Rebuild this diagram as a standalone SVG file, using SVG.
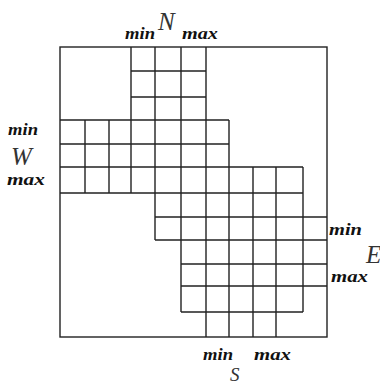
<svg xmlns="http://www.w3.org/2000/svg" width="380" height="387" viewBox="0 0 380 387">
<style>
.c{fill:none;stroke:#222;stroke-width:1.4}
.lim{font-family:"Liberation Serif","DejaVu Serif",serif;font-style:italic;font-weight:bold;font-size:17px;fill:#111}
.dir{font-family:"Liberation Serif","DejaVu Serif",serif;font-style:italic;font-size:25px;fill:#333}
</style>
<rect width="380" height="387" fill="#fff"/>
<g id="frame"><rect class="c" x="60" y="47" width="267" height="290"/></g>
<g id="grid">
<path class="c" d="
M131,47V120 M155,47V120 M181,47V120 M206,47V120
M131,71H206 M131,97H206
M60,120H229 M60,144H229 M229,120V167
M85,120V193 M109,120V193 M131,120V193 M155,120V217 M181,120V217 M206,120V337
M60,167H303 M60,193H303 M229,167V337 M253,167V337 M276,167V337 M303,167V312
M155,217H327 M155,240H327 M155,193V240 M181,217V312
M181,264H327 M181,286H327 M181,312H303"/>
</g>
<g id="labels">
<text class="lim" x="125" y="39" textLength="30" lengthAdjust="spacingAndGlyphs">min</text>
<text class="lim" x="182" y="39" textLength="36" lengthAdjust="spacingAndGlyphs">max</text>
<text class="dir" x="158" y="30">N</text>
<text class="lim" x="8" y="135" textLength="30" lengthAdjust="spacingAndGlyphs">min</text>
<text class="dir" x="11" y="165">W</text>
<text class="lim" x="7" y="185" textLength="38" lengthAdjust="spacingAndGlyphs">max</text>
<text class="lim" x="329" y="235" textLength="33" lengthAdjust="spacingAndGlyphs">min</text>
<text class="dir" x="366" y="263">E</text>
<text class="lim" x="331" y="282" textLength="37" lengthAdjust="spacingAndGlyphs">max</text>
<text class="lim" x="203" y="360" textLength="30" lengthAdjust="spacingAndGlyphs">min</text>
<text class="lim" x="254" y="360" textLength="37" lengthAdjust="spacingAndGlyphs">max</text>
<text class="dir" x="230" y="381" style="font-size:19px">S</text>
</g>
</svg>
